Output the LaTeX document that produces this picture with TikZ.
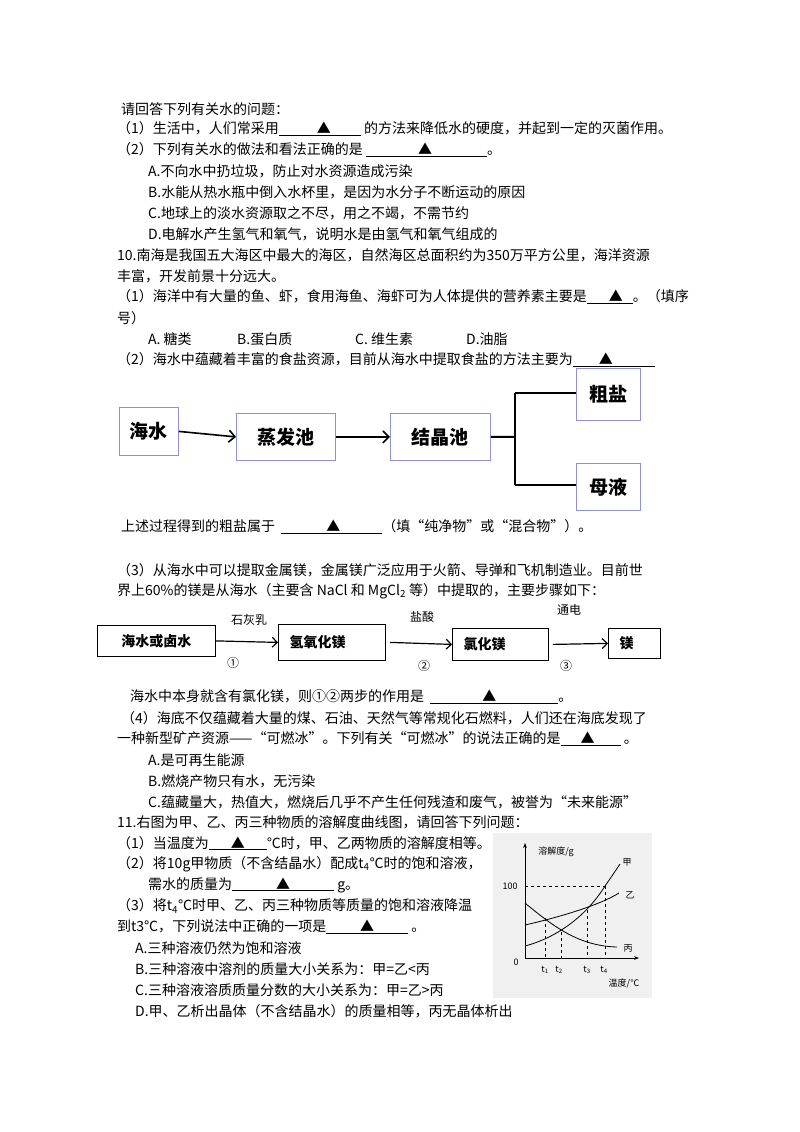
\documentclass[tikz,border=0pt]{standalone}
\usepackage{fontspec}
\usetikzlibrary{arrows.meta}
\setmainfont{Noto Sans CJK SC}
\begin{document}
\begin{tikzpicture}[x=1pt,y=-1pt,
  tl/.style={anchor=west,inner sep=0pt,font=\fontsize{14}{16}\selectfont},
  bbox/.style={draw=blue!45!gray!60,line width=0.8pt,anchor=north west,inner sep=0pt},
  kbox/.style={draw=black,line width=0.8pt,anchor=north west,inner sep=0pt},
  big/.style={font=\fontsize{19}{21}\selectfont\bfseries},
  mid/.style={font=\fontsize{14}{16}\selectfont\bfseries},
  sm/.style={font=\fontsize{12}{14}\selectfont},
  gl/.style={font=\fontsize{9}{10}\selectfont,inner sep=0pt}]
\newcommand\blk[2]{\underline{\hspace{#1}▲\hspace{#2}}}
\useasboundingbox (0,0) rectangle (800,1132);
\node[tl] (l1) at (121,109) {请回答下列有关水的问题：};
\node[tl] (l2) at (117,129) {（1）生活中，人们常采用\blk{38pt}{30pt} 的方法来降低水的硬度，并起到一定的灭菌作用。};
\node[tl] (l3) at (117,150) {（2）下列有关水的做法和看法正确的是 \blk{52pt}{55pt}。};
\node[tl] (l4) at (148,171) {A.不向水中扔垃圾，防止对水资源造成污染};
\node[tl] (l5) at (148,192) {B.水能从热水瓶中倒入水杯里，是因为水分子不断运动的原因};
\node[tl] (l6) at (148,213) {C.地球上的淡水资源取之不尽，用之不竭，不需节约};
\node[tl] (l7) at (148,234) {D.电解水产生氢气和氧气，说明水是由氢气和氧气组成的};
\node[tl] (l8) at (117,255) {10.南海是我国五大海区中最大的海区，自然海区总面积约为350万平方公里，海洋资源};
\node[tl] (l9) at (117,276) {丰富，开发前景十分远大。};
\node[tl] (l10) at (117,297) {（1）海洋中有大量的鱼、虾，食用海鱼、海虾可为人体提供的营养素主要是\blk{22pt}{10pt}。（填序};
\node[tl] (l11) at (117,318) {号）};
\node[tl] (l12a) at (148,339) {A.\ 糖类};
\node[tl] (l12b) at (237,339) {B.蛋白质};
\node[tl] (l12c) at (355,339) {C.\ 维生素};
\node[tl] (l12d) at (466,339) {D.油脂};
\node[tl] (l13) at (117,360) {（2）海水中蕴藏着丰富的食盐资源，目前从海水中提取食盐的方法主要为\blk{26pt}{42pt}};
% flow 1
\node[bbox,minimum width=59pt,minimum height=48pt] (a1) at (119,407) {};
\node[big] at (a1.center) {海水};
\node[bbox,minimum width=99pt,minimum height=47pt] (a2) at (236,413) {};
\node[big] at (a2.center) {蒸发池};
\node[bbox,minimum width=100pt,minimum height=47pt] (a3) at (390,413) {};
\node[big] at (a3.center) {结晶池};
\node[bbox,minimum width=64pt,minimum height=52pt] (a4) at (576,368) {};
\node[big] at (a4.center) {粗盐};
\node[bbox,minimum width=64pt,minimum height=47pt] (a5) at (576,463) {};
\node[big] at (a5.center) {母液};
\draw[line width=1.6pt,-{Straight Barb[length=6pt]}] (a1.east) -- (a2.west);
\draw[line width=1.6pt,-{Straight Barb[length=6pt]}] (a2.east) -- (a3.west);
\coordinate (br) at (515,437);
\draw[line width=2pt] (a3.east) -- (br);
\draw[line width=2pt] (515,393) -- (515,485);
\draw[line width=2pt] (515,393) -- (a4.west |- 0,393);
\draw[line width=2pt] (515,485) -- (a5.west |- 0,485);
\node[tl] (l14) at (121,527) {上述过程得到的粗盐属于 \ \blk{45pt}{42pt}（填“纯净物”或“混合物”）。};
\node[tl] (l15) at (117,570) {（3）从海水中可以提取金属镁，金属镁广泛应用于火箭、导弹和飞机制造业。目前世};
\node[tl] (l16) at (117,591) {界上60\%的镁是从海水（主要含 NaCl 和 MgCl\textsubscript{2} 等）中提取的，主要步骤如下：};
% flow 2
\node[kbox,minimum width=118pt,minimum height=31pt] (b1) at (97,625) {};
\node[mid] at (b1.center) {海水或卤水};
\node[kbox,minimum width=107pt,minimum height=36pt] (b2) at (278,624) {};
\node[mid,anchor=west] at ([xshift=8pt]b2.west) {氢氧化镁};
\node[kbox,minimum width=96pt,minimum height=32pt] (b3) at (452,628) {};
\node[mid,anchor=west] at ([xshift=8pt]b3.west) {氯化镁};
\node[kbox,minimum width=52pt,minimum height=30pt] (b4) at (608,628) {};
\node[mid,anchor=west] at ([xshift=8pt]b4.west) {镁};
\draw[line width=1.2pt,-{Straight Barb[length=5pt]}] (b1.east) -- (b2.west);
\draw[line width=1.2pt,-{Straight Barb[length=5pt]}] ([xshift=4pt]b2.east) -- (b3.west);
\draw[line width=1.2pt,-{Straight Barb[length=5pt]}] ([xshift=4pt]b3.east) -- (b4.west);
\node[sm] at (249,620) {石灰乳};
\node[sm] at (422,617) {盐酸};
\node[sm] at (569,610) {通电};
\node[sm] at (233,663) {①};
\node[sm] at (424,666) {②};
\node[sm] at (566,666) {③};
\node[tl] (l17) at (130,697) {海水中本身就含有氯化镁，则①②两步的作用是 \ \blk{52pt}{62pt}。};
\node[tl] (l18) at (121,718) {（4）海底不仅蕴藏着大量的煤、石油、天然气等常规化石燃料，人们还在海底发现了};
\node[tl] (l19) at (117,739) {一种新型矿产资源——“可燃冰”。下列有关“可燃冰”的说法正确的是\blk{20pt}{26pt} 。};
\node[tl] (l20) at (148,760) {A.是可再生能源};
\node[tl] (l21) at (148,781) {B.燃烧产物只有水，无污染};
\node[tl] (l22) at (148,802) {C.蕴藏量大，热值大，燃烧后几乎不产生任何残渣和废气，被誉为“未来能源”};
\node[tl] (l23) at (117,822) {11.右图为甲、乙、丙三种物质的溶解度曲线图，请回答下列问题：};
\node[tl] (l24) at (117,843) {（1）当温度为\blk{22pt}{22pt}℃时，甲、乙两物质的溶解度相等。};
\node[tl] (l25) at (117,864) {（2）将10g甲物质（不含结晶水）配成t\textsubscript{4}℃时的饱和溶液，};
\node[tl] (l26) at (148,885) {需水的质量为\blk{44pt}{44pt} g。};
\node[tl] (l27) at (117,906) {（3）将t\textsubscript{4}℃时甲、乙、丙三种物质等质量的饱和溶液降温};
\node[tl] (l28) at (117,927) {到t3℃，下列说法中正确的一项是\blk{34pt}{34pt} 。};
\node[tl] (l29) at (135,948) {A.三种溶液仍然为饱和溶液};
\node[tl] (l30) at (135,969) {B.三种溶液中溶剂的质量大小关系为：甲=乙<丙};
\node[tl] (l31) at (135,990) {C.三种溶液溶质质量分数的大小关系为：甲=乙>丙};
\node[tl] (l32) at (135,1011) {D.甲、乙析出晶体（不含结晶水）的质量相等，丙无晶体析出};
% graph
\fill[black!6] (493,833) rectangle (652,998);
\coordinate (O) at (525,958);
\draw[line width=0.8pt,-{Stealth[length=5pt]}] (O) -- (525,843);
\draw[line width=0.8pt,-{Stealth[length=5pt]}] (O) -- (639,958);
\draw[dashed,thin] (525,886) -- (605,886);
\draw[dashed,thin] (545,918) -- (545,958);
\draw[dashed,thin] (561,932) -- (561,958);
\draw[dashed,thin] (587,910) -- (587,958);
\draw[dashed,thin] (605,886) -- (605,958);
\draw[thick] (525,946) .. controls (555,938) and (585,918) .. (605,886) .. controls (612,876) and (616,870) .. (620,864);
\draw[thick] (525,925) .. controls (560,917) and (600,905) .. (619,893);
\draw[thick] (525,903) .. controls (555,928) and (580,946) .. (617,947);
\node[gl] at (556,852) {溶解度/g};
\node[gl] at (510,886) {100};
\node[gl] at (516,962) {0};
\node[gl] at (627,862) {甲};
\node[gl] at (630,895) {乙};
\node[gl] at (628,948) {丙};
\node[gl] at (545,970) {t\textsubscript{1}};
\node[gl] at (559,970) {t\textsubscript{2}};
\node[gl] at (587,970) {t\textsubscript{3}};
\node[gl] at (604,970) {t\textsubscript{4}};
\node[gl] at (624,983) {温度/℃};
\end{tikzpicture}
\end{document}
